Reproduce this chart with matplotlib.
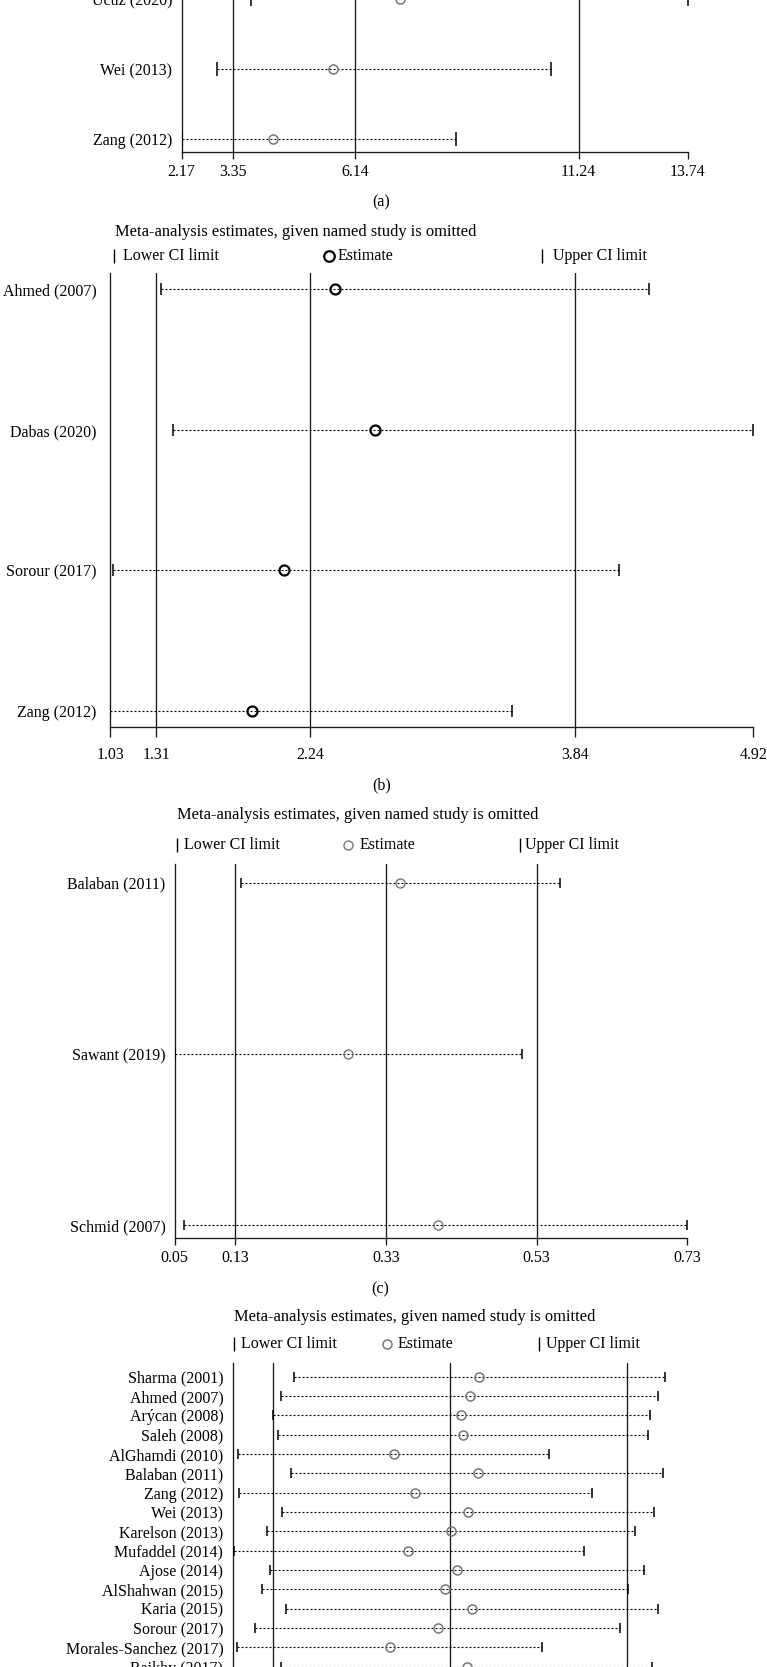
import numpy as np
import matplotlib.pyplot as plt
from matplotlib.lines import Line2D

plt.rcParams['font.family'] = 'Liberation Serif'
plt.rcParams['font.size'] = 11.5

W, H = 767, 1667

# (a) only the last rows are visible in the crop
a_studies = ['Ucuz (2020)', 'Wei (2013)', 'Zang (2012)']
a_lower = [3.76, 2.97, 2.17]
a_est = [7.17, 5.63, 4.27]
a_upper = [13.74, 10.61, 8.44]
a_ticks = [2.17, 3.35, 6.14, 11.24, 13.74]

# (b)
b_studies = ['Ahmed (2007)', 'Dabas (2020)', 'Sorour (2017)', 'Zang (2012)']
b_lower = [1.34, 1.41, 1.05, 1.03]
b_est = [2.39, 2.63, 2.08, 1.89]
b_upper = [4.29, 4.92, 4.11, 3.46]
b_ticks = [1.03, 1.31, 2.24, 3.84, 4.92]

# (c)
c_studies = ['Balaban (2011)', 'Sawant (2019)', 'Schmid (2007)']
c_lower = [0.138, 0.05, 0.062]
c_est = [0.349, 0.280, 0.399]
c_upper = [0.561, 0.511, 0.73]
c_ticks = [0.05, 0.13, 0.33, 0.53, 0.73]

# (d) axis labels are cut off, scale estimated
d_studies = ['Sharma (2001)', 'Ahmed (2007)', 'Arýcan (2008)', 'Saleh (2008)',
             'AlGhamdi (2010)', 'Balaban (2011)', 'Zang (2012)', 'Wei (2013)',
             'Karelson (2013)', 'Mufaddel (2014)', 'Ajose (2014)', 'AlShahwan (2015)',
             'Karia (2015)', 'Sorour (2017)', 'Morales-Sanchez (2017)', 'Raikhy (2017)']
d_lower = [0.169, 0.154, 0.145, 0.151, 0.106, 0.166, 0.107, 0.156,
           0.139, 0.101, 0.142, 0.133, 0.160, 0.125, 0.105, 0.154]
d_est = [0.378, 0.368, 0.357, 0.360, 0.282, 0.376, 0.306, 0.365,
         0.346, 0.298, 0.353, 0.339, 0.370, 0.331, 0.277, 0.364]
d_upper = [0.587, 0.580, 0.570, 0.568, 0.457, 0.585, 0.505, 0.575,
           0.554, 0.496, 0.564, 0.546, 0.579, 0.537, 0.449, 0.573]
d_ticks = [0.10, 0.145, 0.345, 0.545, 0.59]

TITLE = 'Meta-analysis estimates, given named study is omitted'
LINE = '#1a1a1a'
GRAY = '#777777'

fig = plt.figure(figsize=(W / 100, H / 100), dpi=100)


def fx(x):
    return x / W


def fy(y):
    return 1 - y / H


def panel(studies, lo, est, hi, ticks, x0, x1, y_first, step, top_pad, bot_pad,
          mcol, msize, mew, capsize, ticklen, tickpad, labgap):
    n = len(studies)
    top_px = y_first - top_pad
    bot_px = y_first + (n - 1) * step + bot_pad
    ax = fig.add_axes([fx(x0), fy(bot_px), (x1 - x0) / W, (bot_px - top_px) / H])
    y = np.arange(n)
    for i in range(n):
        ax.plot([lo[i], hi[i]], [y[i], y[i]], color='black', lw=0.8,
                dashes=(1.8, 1.8), zorder=2)
    ax.plot(lo, y, ls='none', marker='|', ms=capsize, mew=1.1, color='black', zorder=3)
    ax.plot(hi, y, ls='none', marker='|', ms=capsize, mew=1.1, color='black', zorder=3)
    ax.plot(est, y, ls='none', marker='o', ms=msize, mfc='none', mec=mcol, mew=mew, zorder=4)
    for t in ticks[1:4]:
        ax.axvline(t, color=LINE, lw=0.95, zorder=1)
    ax.set_xlim(ticks[0], ticks[-1])
    ax.set_ylim(n - 1 + bot_pad / step, -top_pad / step)
    ax.set_xticks(ticks)
    ax.set_xticklabels(['%.2f' % t for t in ticks])
    ax.set_yticks(y)
    ax.set_yticklabels(studies)
    ax.tick_params(axis='x', direction='out', length=ticklen, width=0.95,
                   color=LINE, pad=tickpad)
    ax.tick_params(axis='y', length=0, pad=labgap / 1.389)
    for s in ['top', 'right']:
        ax.spines[s].set_visible(False)
    for s in ['left', 'bottom']:
        ax.spines[s].set_color(LINE)
        ax.spines[s].set_linewidth(0.95)
    ax.patch.set_alpha(0)
    return ax


def legend(y_title, y_leg, x_title, bar1, txt1, circ, txt2, bar2, txt3, mcol, msize, mew):
    fig.text(fx(x_title), fy(y_title), TITLE, ha='left', va='center', fontsize=11.9)
    for bx in [bar1, bar2]:
        fig.add_artist(Line2D([fx(bx)], [fy(y_leg)], marker='|', ms=10, mew=1.0,
                              color='black', transform=fig.transFigure))
    fig.add_artist(Line2D([fx(circ)], [fy(y_leg)], marker='o', ms=msize, mfc='none',
                          mec=mcol, mew=mew, transform=fig.transFigure))
    fig.text(fx(txt1), fy(y_leg), 'Lower CI limit', ha='left', va='center')
    fig.text(fx(txt2), fy(y_leg), 'Estimate', ha='left', va='center')
    fig.text(fx(txt3), fy(y_leg), 'Upper CI limit', ha='left', va='center')


# (a)
panel(a_studies, a_lower, a_est, a_upper, a_ticks, 181.5, 688, -1, 70, 40, 13,
      GRAY, 6.5, 1.1, 9.4, 5, 4, 9.3)
fig.text(fx(381), fy(202), '(a)', ha='center', va='center')

# (b)
panel(b_studies, b_lower, b_est, b_upper, b_ticks, 110.1, 753.4, 289.3, 140.6, 16, 16.3,
      'black', 7.2, 1.6, 8.6, 7.2, 7, 13.7)
legend(232, 256, 115, 114, 123, 328.7, 337.6, 542, 553, 'black', 7.6, 1.6)
fig.text(fx(381.5), fy(785), '(b)', ha='center', va='center')

# (c)
panel(c_studies, c_lower, c_est, c_upper, c_ticks, 174.7, 687.4, 882.7, 171.3, 18.7, 13,
      GRAY, 6.5, 1.0, 7.9, 5, 3.6, 9.3)
legend(815, 845, 177, 177, 183.5, 348.3, 359.6, 519.6, 525, GRAY, 6.5, 1.0)
fig.text(fx(380.6), fy(1289), '(c)', ha='center', va='center')

# (d)
panel(d_studies, d_lower, d_est, d_upper, d_ticks, 232.7, 232.7 + 0.49 * 887, 1376.7, 19.33,
      13.4, 30, GRAY, 6.5, 1.1, 6.5, 5, 3.6, 9.4)
legend(1317, 1344, 233.9, 233.9, 241.2, 386.5, 397.3, 538.6, 545.5, GRAY, 6.5, 1.1)

fig.savefig('out.png', dpi=100)
